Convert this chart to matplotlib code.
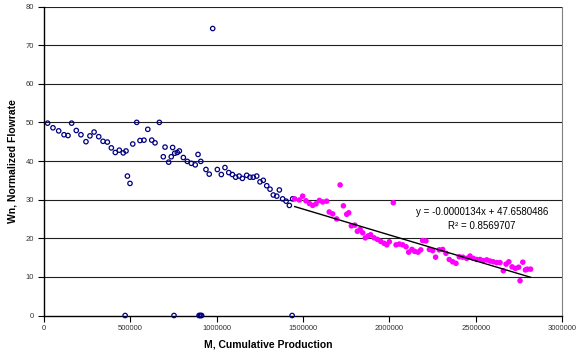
import numpy as np
import matplotlib
matplotlib.use("Agg")
import matplotlib.pyplot as plt
from matplotlib.ticker import FuncFormatter

plt.rcParams['font.family'] = ['Liberation Sans', 'DejaVu Sans']

# Blue series (open circles), x in thousands
blue_x = [21, 52, 85, 116, 139, 160, 187, 214, 243, 266, 290, 317, 342, 367, 390,
          413, 436, 459, 475, 483, 498, 514, 537, 556, 579, 601, 624, 643, 668, 691,
          701, 722, 737, 745, 757, 772, 784, 807, 830, 853, 876, 892, 908, 938, 957,
          977, 1004, 1027, 1048, 1070, 1091, 1110, 1130, 1149, 1174, 1193, 1212, 1232,
          1251, 1270, 1290, 1309, 1328, 1348, 1363, 1382, 1402, 1421, 1440,
          470, 753, 898, 903, 908, 913, 1437]
blue_y = [49.8, 48.6, 47.8, 46.8, 46.6, 49.8, 47.9, 46.8, 45.0, 46.5, 47.5, 46.3, 45.1, 44.9, 43.4,
          42.2, 42.8, 42.1, 42.6, 36.1, 34.2, 44.4, 50.0, 45.3, 45.4, 48.2, 45.4, 44.7, 50.0, 41.1,
          43.6, 39.7, 41.1, 43.5, 42.0, 42.2, 42.6, 40.9, 39.9, 39.4, 39.0, 41.7, 39.9, 37.8, 36.6,
          74.3, 37.8, 36.5, 38.3, 37.0, 36.5, 35.8, 36.1, 35.5, 36.3, 35.8, 35.8, 36.1,
          34.6, 35.0, 33.6, 32.7, 31.2, 30.9, 32.5, 30.2, 29.6, 28.5, 30.2,
          0, 0, 0, 0, 0, 0, 0]

# Magenta series (filled circles), x in thousands
mag_x = [1452, 1479, 1498, 1517, 1537, 1556, 1575, 1595, 1614, 1637, 1652, 1672, 1695,
         1715, 1734, 1753, 1765, 1780, 1800, 1815, 1831, 1846, 1861, 1877, 1892, 1912,
         1931, 1950, 1969, 1985, 2000, 2023, 2039, 2058, 2077, 2097, 2112, 2131, 2147,
         2166, 2182, 2193, 2212, 2232, 2251, 2268, 2289, 2309, 2328, 2347, 2367, 2386,
         2405, 2425, 2448, 2467, 2486, 2506, 2525, 2544, 2564, 2583, 2602, 2622, 2641,
         2660, 2676, 2692, 2711, 2730, 2749, 2757, 2773, 2788, 2799, 2818]
mag_y = [30.2, 29.9, 30.9, 29.7, 29.0, 28.5, 28.9, 29.8, 29.4, 29.6, 26.8, 26.3, 25.0,
         33.8, 28.4, 26.2, 26.6, 23.2, 23.4, 21.8, 22.3, 21.4, 20.1, 20.6, 20.9, 20.1,
         19.7, 19.2, 18.7, 18.3, 19.1, 29.2, 18.3, 18.5, 18.3, 17.8, 16.4, 17.1, 16.6,
         16.4, 17.0, 19.4, 19.3, 17.1, 16.8, 15.1, 17.0, 17.1, 16.1, 14.5, 13.9, 13.5,
         15.2, 15.1, 14.8, 15.4, 14.8, 14.5, 14.5, 14.2, 14.4, 14.1, 13.9, 13.7, 13.7,
         11.6, 13.3, 13.9, 12.6, 12.2, 12.5, 9.0, 13.8, 11.8, 12.0, 12.0]

# Trendline from the equation shown on the chart
slope = -0.0000134
intercept = 47.6580486
r2 = 0.8569707

blue_x = np.array(blue_x) * 1000
mag_x = np.array(mag_x) * 1000

fig = plt.figure(figsize=(5.83, 3.53), dpi=100)
ax = fig.add_axes([44/583, 1 - 315.5/353, 518/583, 309/353])

for yv in range(10, 90, 10):
    ax.axhline(yv, color='#202020', linewidth=0.8, zorder=1)

ax.scatter(blue_x, blue_y, s=10, facecolors='none', edgecolors='#000080',
           linewidths=0.9, zorder=3, clip_on=False)
ax.scatter(mag_x, mag_y, s=16, color='#FF00FF', edgecolors='none', zorder=3)

tx = np.array([mag_x.min(), mag_x.max()])
ax.plot(tx, slope * tx + intercept, color='black', linewidth=1.0, zorder=4)

ax.text(2537000, 25.0, 'y = -0.0000134x + 47.6580486\nR² = %.7f' % r2,
        ha='center', va='center', multialignment='center', fontsize=7,
        linespacing=1.45, zorder=5)

ax.set_xlim(0, 3000000)
ax.set_ylim(0, 80)
ax.set_xticks(np.arange(0, 3000001, 500000))
ax.set_yticks(np.arange(0, 81, 10))
ax.xaxis.set_major_formatter(FuncFormatter(lambda v, p: '%d' % v))
ax.tick_params(labelsize=5.5, length=4, width=0.8, pad=3, colors='#333333')
ax.tick_params(axis='both', color='black')

ax.spines['top'].set_visible(False)
ax.spines['right'].set_color('#808080')
ax.spines['left'].set_linewidth(1.0)
ax.spines['bottom'].set_linewidth(1.0)

ax.set_xlabel('M, Cumulative Production', fontsize=7.5, fontweight='bold')
ax.set_ylabel('Wn, Normalized Flowrate', fontsize=7.5, fontweight='bold')
ax.xaxis.set_label_coords(0.432, -0.079)
ax.yaxis.set_label_coords(-0.052, 0.5)

fig.savefig('out.png', dpi=100)
